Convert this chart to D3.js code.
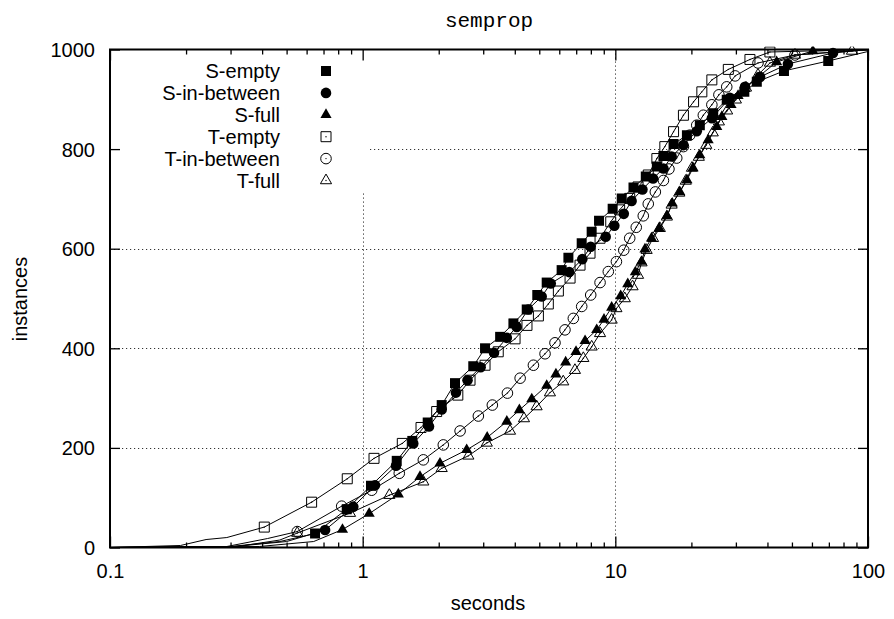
<!DOCTYPE html>
<html>
<head>
<meta charset="utf-8">
<script src="https://cdn.jsdelivr.net/npm/d3@7/dist/d3.min.js"></script>
<style>
	body { margin: 0; background: #fff; }
	text { font-family: "Liberation Sans", Arial, Helvetica, sans-serif; fill: #000; }
</style>
</head>
<body>
<svg id="chart" width="894" height="619"></svg>
<script>
"use strict";

// axis ticks
var xMajorTicks = [0.1, 1, 10, 100];
var xTickLabels = ['0.1', '1', '10', '100'];
var yTicks = [0, 200, 400, 600, 800, 1000];
var yGrid = [200, 400, 600, 800];
var xGrid = [1, 10];

// series: [seconds, instances]
var seriesNames = ['S-empty', 'S-in-between', 'S-full', 'T-empty', 'T-in-between', 'T-full'];

var sEmptyTail = [[0.1, 0], [0.30, 2], [0.47, 12]];
var sEmpty = [[0.648, 28], [0.865, 77], [1.079, 124], [1.364, 174], [1.572, 214], [1.809, 251], [2.055, 286], [2.32, 330], [2.74, 364], [3.05, 400], [3.50, 423], [3.95, 450], [4.46, 478], [4.91, 507], [5.35, 532], [6.13, 557], [6.52, 582], [7.36, 611], [8.06, 634], [8.62, 656], [9.76, 680], [10.6, 701], [11.8, 723], [13.2, 745], [14.6, 765], [15.5, 786], [17.0, 810], [19.2, 828], [21.6, 848], [24.4, 872], [27.6, 899], [32.4, 915], [36.3, 935], [46.5, 957], [69.6, 977]];
var sEmptyEnd = [[100, 996]];

var sInTail = [[0.1, 0], [0.31, 2], [0.50, 12]];
var sIn = [[0.710, 35], [0.918, 82], [1.119, 125], [1.355, 164], [1.586, 209], [1.830, 243], [2.055, 277], [2.34, 311], [2.60, 336], [2.93, 362], [3.31, 391], [3.72, 421], [4.07, 443], [4.52, 478], [5.11, 504], [5.55, 530], [6.57, 553], [7.40, 579], [7.99, 604], [9.16, 624], [9.91, 646], [10.8, 670], [11.6, 696], [12.8, 719], [14.1, 741], [15.5, 761], [16.7, 785], [18.6, 808], [21.0, 836], [24.1, 862], [28.4, 903], [32.6, 925], [37.4, 945], [48.2, 971], [72.7, 993]];
var sInEnd = [[100, 1000]];

var sFullTail = [[0.1, 0], [0.39, 2], [0.64, 12]];
var sFull = [[0.832, 36], [1.061, 68], [1.384, 107], [1.686, 142], [2.023, 169], [2.58, 196], [3.11, 221], [3.72, 253], [4.17, 276], [4.67, 298], [5.35, 325], [5.82, 348], [6.36, 372], [6.99, 393], [7.59, 415], [8.44, 437], [9.02, 458], [9.67, 482], [10.5, 505], [11.2, 529], [12.0, 553], [12.7, 574], [13.1, 599], [13.9, 621], [14.9, 641], [16.0, 666], [16.8, 691], [18.0, 714], [19.2, 738], [20.3, 762], [21.6, 788], [23.3, 818], [25.2, 845], [26.4, 865], [28.7, 889], [30.6, 907], [32.6, 921], [36.4, 943], [43.5, 975], [60.5, 997]];
var sFullEnd = [[100, 1000]];

var tEmptyTail = [[0.1, 0], [0.19, 4], [0.24, 16], [0.29, 20]];
var tEmpty = [[0.408, 41], [0.628, 91], [0.869, 138], [1.109, 179], [1.435, 209], [1.702, 241], [1.963, 273], [2.38, 306], [2.66, 336], [3.05, 366], [3.44, 393], [4.01, 419], [4.47, 446], [4.96, 465], [5.43, 489], [5.95, 515], [6.62, 541], [7.25, 567], [7.94, 591], [8.70, 621], [9.59, 654], [10.4, 678], [11.4, 701], [12.3, 724], [13.5, 748], [14.6, 781], [15.7, 805], [17.0, 835], [18.6, 868], [20.4, 895], [22.0, 915], [24.1, 939], [28.0, 960], [34.1, 980], [40.9, 995]];
var tEmptyEnd = [[100, 1000]];

var tInTail = [[0.1, 0], [0.29, 2], [0.42, 18]];
var tIn = [[0.551, 32], [0.826, 83], [1.086, 115], [1.396, 149], [1.738, 176], [2.085, 206], [2.43, 234], [2.87, 264], [3.26, 286], [3.74, 310], [4.20, 340], [4.74, 366], [5.27, 389], [5.77, 411], [6.32, 437], [6.82, 460], [7.36, 484], [7.99, 507], [8.70, 532], [9.38, 554], [10.1, 574], [10.8, 597], [11.4, 621], [12.1, 643], [12.9, 666], [13.5, 690], [14.4, 714], [15.5, 737], [16.3, 760], [17.5, 782], [18.6, 805], [19.7, 828], [21.0, 848], [22.3, 868], [24.1, 889], [25.7, 909], [27.6, 925], [29.8, 947], [36.7, 973], [51.4, 989]];
var tInEnd = [[100, 1000]];

var tFullTail = [[0.1, 0], [0.32, 2], [0.47, 15]];
var tFull = [[0.551, 29], [0.891, 69], [1.275, 105], [1.738, 132], [2.055, 159], [2.62, 184], [3.10, 210], [3.83, 234], [4.35, 259], [4.88, 283], [5.51, 311], [6.22, 333], [6.92, 356], [7.47, 380], [8.06, 403], [8.70, 430], [9.67, 457], [10.1, 480], [10.9, 500], [11.7, 524], [12.3, 547], [12.7, 572], [13.3, 597], [14.1, 621], [15.0, 641], [16.0, 664], [16.7, 688], [17.9, 712], [19.0, 736], [20.1, 762], [21.4, 784], [22.9, 808], [24.3, 833], [25.7, 855], [27.7, 877], [30.0, 899], [32.9, 923], [36.7, 949], [40.9, 973], [51.4, 989], [86.4, 997]];
var tFullEnd = [[100, 1000]];

var series = [
	{name: seriesNames[0], tail: sEmptyTail, points: sEmpty, end: sEmptyEnd, shape: 'square', filled: true},
	{name: seriesNames[1], tail: sInTail, points: sIn, end: sInEnd, shape: 'circle', filled: true},
	{name: seriesNames[2], tail: sFullTail, points: sFull, end: sFullEnd, shape: 'triangle', filled: true},
	{name: seriesNames[3], tail: tEmptyTail, points: tEmpty, end: tEmptyEnd, shape: 'square', filled: false},
	{name: seriesNames[4], tail: tInTail, points: tIn, end: tInEnd, shape: 'circle', filled: false},
	{name: seriesNames[5], tail: tFullTail, points: tFull, end: tFullEnd, shape: 'triangle', filled: false}
];

var plot = {left: 110, right: 868, top: 49.5, bottom: 547.5};

var svg = d3.select('#chart');

var x = d3.scaleLog().domain([0.1, 100]).range([plot.left, plot.right]);
var y = d3.scaleLinear().domain([0, 1000]).range([plot.bottom, plot.top]);

//minor ticks 2..9 in every decade
var xMinorTicks = [];
[0.1, 1, 10].forEach(function(d) {
	for (var k = 2; k <= 9; k++) xMinorTicks.push(+(d * k).toPrecision(3));
});

//grid, dotted
var grid = svg.append('g').attr('stroke', '#333').attr('stroke-width', 1).attr('stroke-dasharray', '1.2,2.8');
grid.selectAll('.gy').data(yGrid).enter().append('line')
	.attr('x1', plot.left).attr('x2', plot.right)
	.attr('y1', function(d) { return Math.round(y(d)) + 0.5; })
	.attr('y2', function(d) { return Math.round(y(d)) + 0.5; });
grid.selectAll('.gx').data(xGrid).enter().append('line')
	.attr('y1', plot.top).attr('y2', plot.bottom)
	.attr('x1', function(d) { return Math.round(x(d)) + 0.5; })
	.attr('x2', function(d) { return Math.round(x(d)) + 0.5; });

//key area hides the grid
svg.append('rect')
	.attr('x', plot.left + 1).attr('y', plot.top + 1)
	.attr('width', 258).attr('height', 141)
	.attr('fill', '#fff');

function symbolPath(shape) {
	if (shape === 'square') return d3.symbol(d3.symbolSquare, 100)();
	if (shape === 'circle') return d3.symbol(d3.symbolCircle, 88)();
	return d3.symbol(d3.symbolTriangle, 54)();
}

function drawMarker(g, s, cx, cy) {
	var m = g.append('g').attr('transform', 'translate(' + cx + ',' + cy + ')');
	m.append('path')
		.attr('d', symbolPath(s.shape))
		.attr('fill', s.filled ? '#000' : 'none')
		.attr('stroke', '#000')
		.attr('stroke-width', s.filled ? 0 : 1);
	if (!s.filled) {
		m.append('circle').attr('r', 0.7).attr('fill', '#000');
	}
}

var line = d3.line()
	.x(function(d) { return x(d[0]); })
	.y(function(d) { return y(d[1]); });

svg.append('clipPath').attr('id', 'clip').append('rect')
	.attr('x', plot.left).attr('y', plot.top - 3)
	.attr('width', plot.right - plot.left).attr('height', plot.bottom - plot.top + 3);

var data = svg.append('g').attr('clip-path', 'url(#clip)');
series.forEach(function(s) {
	var g = data.append('g');
	g.append('path')
		.attr('d', line(s.tail.concat(s.points, s.end)))
		.attr('fill', 'none')
		.attr('stroke', '#000')
		.attr('stroke-width', 1);
	s.points.forEach(function(p) {
		drawMarker(g, s, x(p[0]), y(p[1]));
	});
});

//border
svg.append('rect')
	.attr('x', plot.left).attr('y', plot.top)
	.attr('width', plot.right - plot.left).attr('height', plot.bottom - plot.top)
	.attr('fill', 'none').attr('stroke', '#000').attr('stroke-width', 2);

//ticks, pointing inwards like gnuplot
var fontSize = 20;

svg.append('g').attr('transform', 'translate(0,' + plot.bottom + ')')
	.call(d3.axisBottom(x).tickValues(xMajorTicks).tickSize(-11).tickPadding(16)
		.tickFormat(function(d, i) { return xTickLabels[i]; }));
svg.append('g').attr('transform', 'translate(0,' + plot.bottom + ')')
	.call(d3.axisBottom(x).tickValues(xMinorTicks).tickSize(-5).tickFormat(''));
svg.append('g').attr('transform', 'translate(0,' + plot.top + ')')
	.call(d3.axisTop(x).tickValues(xMajorTicks).tickSize(-11).tickFormat(''));
svg.append('g').attr('transform', 'translate(0,' + plot.top + ')')
	.call(d3.axisTop(x).tickValues(xMinorTicks).tickSize(-5).tickFormat(''));

var yAxis = svg.append('g').attr('transform', 'translate(' + plot.left + ',0)')
	.call(d3.axisLeft(y).tickValues(yTicks).tickSize(-10).tickPadding(15).tickFormat(d3.format('d')));
svg.append('g').attr('transform', 'translate(' + plot.right + ',0)')
	.call(d3.axisRight(y).tickValues(yTicks).tickSize(-10).tickFormat(''));

svg.selectAll('.domain').remove();
svg.selectAll('.tick line').attr('stroke', '#000').attr('stroke-width', 1.3);
svg.selectAll('.tick text')
	.style('font-family', '"Liberation Sans", Arial, Helvetica, sans-serif')
	.style('font-size', fontSize + 'px')
	.attr('fill', '#000');
yAxis.selectAll('.tick text').attr('dy', '0.35em');

//title and axis labels
svg.append('text')
	.attr('x', (plot.left + plot.right) / 2).attr('y', 27)
	.attr('text-anchor', 'middle')
	.style('font-family', '"Liberation Mono", "Courier New", monospace')
	.style('font-size', '21px')
	.text('semprop');

svg.append('text')
	.attr('x', (plot.left + plot.right) / 2 - 1).attr('y', 610)
	.attr('text-anchor', 'middle')
	.style('font-size', fontSize + 'px')
	.text('seconds');

svg.append('text')
	.attr('transform', 'translate(27,299) rotate(-90)')
	.attr('text-anchor', 'middle')
	.style('font-size', fontSize + 'px')
	.text('instances');

//key
var key = svg.append('g');
series.forEach(function(s, i) {
	var ky = 71 + i * 21.9;
	key.append('text')
		.attr('x', 280).attr('y', ky)
		.attr('dy', '0.35em')
		.attr('text-anchor', 'end')
		.style('font-size', fontSize + 'px')
		.text(s.name);
	drawMarker(key, s, 326, ky);
});
</script>
</body>
</html>
